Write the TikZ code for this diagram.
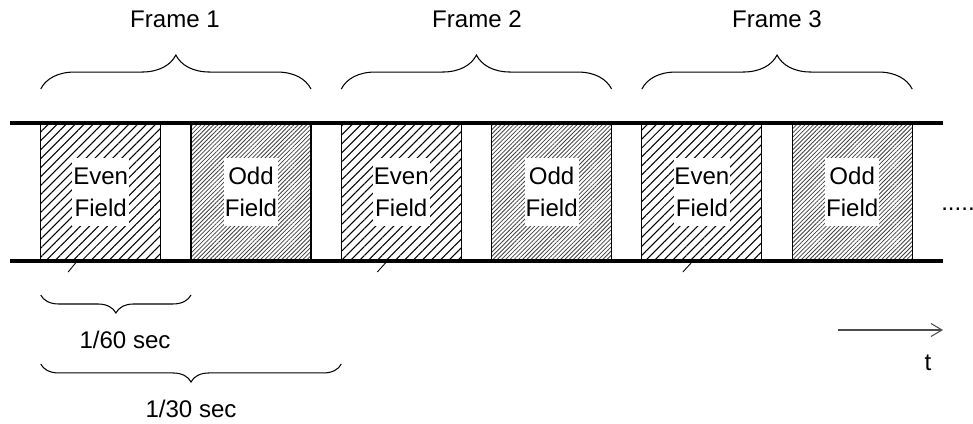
\documentclass[tikz,border=0pt]{standalone}
\usepackage{fontspec}
\setmainfont{Liberation Sans}
\usepackage{tikz}
\usetikzlibrary{arrows.meta,patterns.meta,decorations.pathreplacing,calc}

\begin{document}
\begin{tikzpicture}[
    x=0.02cm, y=-0.02cm,
    font=\fontsize{13.7pt}{18.2pt}\selectfont,
    field/.style={rectangle, draw=black, line width=0.6pt, inner sep=0pt, outer sep=0pt,
      minimum width=2.4cm, minimum height=2.76cm},
    evenbox/.style={field, pattern={Lines[angle=45, distance=3.6pt, line width=0.6pt]}},
    oddbox/.style={field, pattern={Lines[angle=45, distance=1.7pt, line width=0.45pt]},
      pattern color=black!75},
    fieldtext/.style={fill=white, align=center, inner sep=0.5pt,
      minimum width=1.08cm, minimum height=1.38cm},
    rail/.style={line width=2pt},
    tick/.style={line width=0.5pt},
    topbrace/.style={decorate, decoration={brace, amplitude=0.68cm}, line width=0.6pt},
    lowbrace/.style={decorate, decoration={brace, mirror, amplitude=0.36cm}, line width=0.6pt},
    timearr/.style={-{Straight Barb[length=0.22cm, width=0.26cm, line width=0.6pt]},
      line width=0.8pt, black!70},
    lbl/.style={inner sep=1pt}
  ]
    \useasboundingbox (0,0) rectangle (973,423);
    % fields
    \node[evenbox] (e1) at (100.7,192) {};
    \node[oddbox]  (o1) at (251,192) {};
    \node[evenbox] (e2) at (401.3,192) {};
    \node[oddbox]  (o2) at (551.6,192) {};
    \node[evenbox] (e3) at (701.9,192) {};
    \node[oddbox]  (o3) at (852.2,192) {};
    \node[fieldtext] (te1) at (e1) {Even\\Field};
    \node[fieldtext] (to1) at (o1) {Odd\\Field};
    \node[fieldtext] (te2) at (e2) {Even\\Field};
    \node[fieldtext] (to2) at (o2) {Odd\\Field};
    \node[fieldtext] (te3) at (e3) {Even\\Field};
    \node[fieldtext] (to3) at (o3) {Odd\\Field};
    % rails
    \coordinate (tl) at (10,123);
    \coordinate (tr) at (943,123);
    \coordinate (bl) at (10,261);
    \coordinate (br) at (943,261);
    \draw[rail] (tl) -- (tr);
    \draw[rail] (bl) -- (br);
    \draw[tick] ([xshift=-0.47cm]e1.south) -- ++(-9,11);
    \draw[tick] ([xshift=-0.28cm]e2.south) -- ++(-10,11);
    \draw[tick] ([xshift=-0.18cm]e3.south) -- ++(-10,11);
    \node[lbl] (more) at (958,209) {.....};
    % frames
    \draw[topbrace] ([yshift=0.68cm]e1.north west) -- ([yshift=0.68cm]o1.north east);
    \draw[topbrace] ([yshift=0.68cm]e2.north west) -- ([yshift=0.68cm]o2.north east);
    \draw[topbrace] ([yshift=0.68cm]e3.north west) -- ([yshift=0.68cm]o3.north east);
    \node[lbl] (fr1) at (175,19) {Frame 1};
    \node[lbl] (fr2) at (477,19) {Frame 2};
    \node[lbl] (fr3) at (777,19) {Frame 3};
    % durations
    \draw[lowbrace] ([yshift=-0.68cm]e1.south west) -- ([yshift=-0.68cm]o1.south west);
    \draw[lowbrace] ([yshift=-2.06cm]e1.south west) -- ([yshift=-2.06cm]e2.south west);
    \node[lbl] (d60) at (125,340) {1/60 sec};
    \node[lbl] (d30) at (191,409) {1/30 sec};
    % time axis
    \coordinate (ts) at (838,330);
    \coordinate (te) at (943,330);
    \draw[timearr] (ts) -- (te);
    \node[lbl] (tlab) at (928,363) {t};
  \end{tikzpicture}
\end{document}
